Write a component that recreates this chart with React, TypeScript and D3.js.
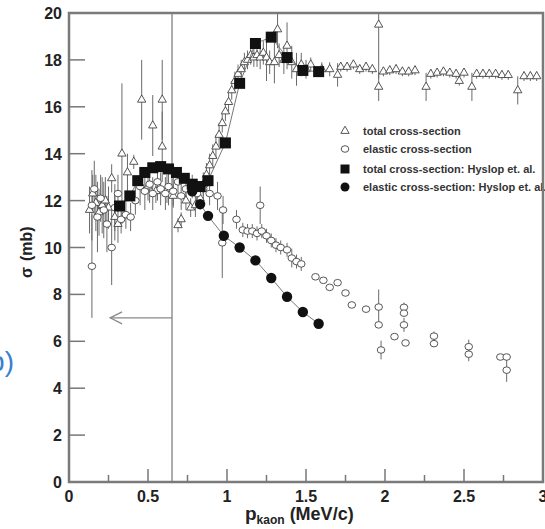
import React from "react";
import * as d3 from "d3";

// total cross-section: [p, sigma, err]
const totalData: [number, number, number][] = [
  [0.13, 11.6, 1.0], [0.15, 12.3, 0.8], [0.17, 11.9, 1.2], [0.19, 11.5, 1.0], [0.21, 11.8, 1.2],
  [0.23, 12.0, 1.0], [0.25, 11.7, 0.9], [0.27, 12.95, 0.6], [0.29, 11.3, 1.0], [0.31, 11.0, 0.8],
  [0.335, 14.0, 3.0], [0.37, 13.2, 0.8], [0.41, 13.65, 0.3], [0.46, 16.3, 1.7], [0.53, 15.2, 1.3],
  [0.59, 16.3, 1.7], [0.59, 14.3, 1.5], [0.5, 12.6, 0.6], [0.55, 12.4, 0.5], [0.62, 12.5, 0.6],
  [0.66, 12.2, 0.5], [0.71, 11.2, 0.3], [0.69, 10.95, 0.3], [0.77, 11.7, 0.4], [0.74, 12.0, 0.4],
  [0.8, 11.8, 0.5], [0.83, 12.1, 0.5],
  [0.85, 12.7, 0.5], [0.87, 13.1, 0.5], [0.89, 13.5, 0.5], [0.91, 13.9, 0.5], [0.93, 14.3, 0.5],
  [0.95, 14.8, 0.5], [0.97, 15.3, 0.4], [0.99, 15.8, 0.4], [1.01, 16.2, 0.4], [1.03, 16.7, 0.4],
  [1.05, 17.1, 0.4], [1.07, 17.4, 0.4], [1.09, 17.6, 0.4], [1.11, 17.9, 0.4], [1.13, 18.0, 0.4],
  [1.15, 18.2, 0.4], [1.17, 18.1, 0.4], [1.19, 18.2, 0.5], [1.21, 18.1, 0.5], [1.23, 18.3, 0.5],
  [1.25, 18.1, 1.0], [1.27, 17.9, 0.5], [1.3, 17.9, 0.9], [1.32, 19.3, 0.8], [1.33, 18.2, 0.5],
  [1.36, 18.0, 0.6], [1.38, 18.6, 1.0], [1.41, 17.9, 0.7], [1.44, 17.6, 0.7], [1.47, 17.8, 0.5],
  [1.5, 17.6, 0.4], [1.53, 17.8, 0.3], [1.6, 17.6, 0.3], [1.65, 17.6, 0.3], [1.7, 17.36, 0.5],
  [1.72, 17.7, 0.2], [1.76, 17.7, 0.2], [1.8, 17.8, 0.2], [1.84, 17.6, 0.2], [1.88, 17.7, 0.2],
  [1.92, 17.6, 0.2], [1.96, 19.5, 2.3], [1.96, 16.85, 0.6], [1.99, 17.5, 0.2], [2.03, 17.55, 0.2],
  [2.07, 17.6, 0.2], [2.11, 17.5, 0.2], [2.15, 17.5, 0.2], [2.19, 17.55, 0.2], [2.26, 16.85, 0.6],
  [2.29, 17.4, 0.2], [2.33, 17.45, 0.2], [2.37, 17.5, 0.2], [2.41, 17.45, 0.2], [2.45, 17.4, 0.2],
  [2.47, 17.1, 0.2], [2.5, 17.45, 0.2], [2.55, 16.85, 0.6], [2.58, 17.4, 0.2], [2.62, 17.4, 0.2],
  [2.66, 17.4, 0.2], [2.7, 17.4, 0.2], [2.74, 17.35, 0.2], [2.78, 17.35, 0.2], [2.84, 16.7, 0.6],
  [2.88, 17.3, 0.2], [2.92, 17.3, 0.2], [2.96, 17.3, 0.2],
];

// elastic cross-section: [p, sigma, err]
const elasticData: [number, number, number][] = [
  [0.145, 9.2, 2.2], [0.145, 11.8, 1.5], [0.16, 12.5, 1.2], [0.18, 11.3, 1.5], [0.2, 12.1, 1.0],
  [0.22, 11.6, 1.2], [0.24, 11.0, 1.2], [0.27, 10.0, 1.6], [0.29, 11.7, 1.0], [0.31, 12.3, 0.8],
  [0.33, 11.2, 0.6], [0.36, 11.4, 0.6], [0.39, 11.3, 0.6], [0.42, 12.0, 0.6], [0.45, 12.6, 0.8],
  [0.48, 12.4, 0.8], [0.51, 12.7, 0.8], [0.53, 12.3, 0.7], [0.56, 12.8, 0.8], [0.58, 12.5, 0.7],
  [0.61, 12.3, 0.7], [0.63, 12.6, 0.8], [0.66, 12.4, 0.6], [0.69, 12.8, 0.6], [0.71, 12.2, 0.6],
  [0.74, 12.5, 0.6], [0.78, 12.6, 0.5], [0.81, 12.3, 0.5], [0.85, 12.5, 0.5], [0.89, 12.3, 0.5],
  [0.94, 12.2, 0.6], [0.975, 11.6, 0.6], [0.97, 10.2, 1.5], [1.06, 11.2, 0.4], [1.1, 10.75, 0.3],
  [1.13, 10.7, 0.3], [1.16, 10.7, 0.3], [1.19, 10.6, 0.3], [1.21, 11.8, 0.8], [1.22, 10.7, 0.3],
  [1.25, 10.5, 0.3], [1.28, 10.3, 0.3], [1.31, 10.1, 0.3], [1.34, 10.0, 0.3], [1.38, 9.9, 0.3],
  [1.41, 9.55, 0.4], [1.44, 9.4, 0.3], [1.47, 9.3, 0.3], [1.56, 8.75, 0.1], [1.61, 8.6, 0.1],
  [1.65, 8.3, 0.1], [1.7, 8.5, 0.1], [1.75, 8.06, 0.1], [1.79, 7.55, 0.1], [1.88, 7.37, 0.1],
  [1.96, 7.46, 0.75], [1.96, 6.7, 0.1], [1.975, 5.63, 0.4], [2.06, 6.2, 0.1], [2.13, 5.93, 0.1],
  [2.12, 7.45, 0.2], [2.12, 7.2, 0.1], [2.12, 6.7, 0.3], [2.31, 6.22, 0.2], [2.31, 5.9, 0.1],
  [2.53, 5.77, 0.3], [2.53, 5.45, 0.3], [2.73, 5.33, 0.1], [2.77, 5.33, 0.1], [2.77, 4.77, 0.5],
];

// Hyslop et al. total: [p, sigma]
const hyslopTotal: [number, number][] = [
  [0.32, 11.77], [0.385, 12.2], [0.435, 12.85], [0.48, 13.2], [0.53, 13.4], [0.58, 13.45],
  [0.63, 13.35], [0.68, 13.2], [0.73, 12.95], [0.78, 12.7], [0.83, 12.6], [0.88, 12.85],
  [0.99, 14.46], [1.08, 17.0], [1.18, 18.7], [1.28, 18.97], [1.38, 18.1], [1.48, 17.55], [1.58, 17.5],
];

// Hyslop et al. elastic: [p, sigma]
const hyslopElastic: [number, number][] = [
  [0.78, 12.4], [0.83, 11.85], [0.88, 11.35], [0.98, 10.5], [1.08, 10.0], [1.18, 9.45],
  [1.28, 8.7], [1.38, 7.9], [1.48, 7.25], [1.58, 6.75],
];

const xTicks = [0, 0.5, 1, 1.5, 2, 2.5, 3];
const xMinorTicks = [0.25, 0.75, 1.25, 1.75, 2.25, 2.75];
const yTicks = [0, 2, 4, 6, 8, 10, 12, 14, 16, 18, 20];
const legendLabels = [
  "total cross-section",
  "elastic cross-section",
  "total cross-section: Hyslop et. al.",
  "elastic cross-section: Hyslop et. al.",
];
const thresholdP = 0.652;
const arrowEndP = 0.26;
const arrowSigma = 7.0;

export default function App() {
  const W = 545, H = 529;
  const L = 69, R = 543, T = 13, B = 482;
  const x = d3.scaleLinear().domain([0, 3]).range([L, R]);
  const y = d3.scaleLinear().domain([0, 20]).range([B, T]);
  const tri = d3.symbol(d3.symbolTriangle, 30)() as string;
  const font = "Liberation Sans, Arial, sans-serif";
  const mk = "#444";
  const bar = "#6a6a6a";
  const line = d3.line<[number, number]>().x((d) => x(d[0])).y((d) => y(d[1]));

  const errBars = (data: [number, number, number][], key: string) =>
    data.map((d, i) => (
      <line key={key + i} x1={x(d[0])} x2={x(d[0])} y1={y(d[1] - d[2])} y2={y(d[1] + d[2])}
        stroke={bar} strokeWidth={1} />
    ));

  return (
    <svg width={W} height={H} style={{ position: "absolute", left: 0, top: 0, background: "#fff" }}>
      <defs>
        <clipPath id="plot">
          <rect x={L} y={T} width={R - L} height={B - T} />
        </clipPath>
      </defs>

      <g clipPath="url(#plot)">
        {/* threshold line and arrow */}
        <line x1={x(thresholdP)} x2={x(thresholdP)} y1={T} y2={B} stroke="#777" strokeWidth={1.2} />
        <line x1={x(thresholdP)} x2={x(arrowEndP)} y1={y(arrowSigma)} y2={y(arrowSigma)} stroke="#888" strokeWidth={1.2} />
        <polyline
          points={`${x(arrowEndP) + 12},${y(arrowSigma) - 6} ${x(arrowEndP)},${y(arrowSigma)} ${x(arrowEndP) + 12},${y(arrowSigma) + 6}`}
          fill="none" stroke="#888" strokeWidth={1.2} />

        {errBars(totalData, "te")}
        {errBars(elasticData, "ee")}

        {totalData.map((d, i) => (
          <path key={"t" + i} d={tri} transform={`translate(${x(d[0])},${y(d[1])})`}
            fill="#fff" stroke={mk} strokeWidth={0.9} />
        ))}
        {elasticData.map((d, i) => (
          <ellipse key={"e" + i} cx={x(d[0])} cy={y(d[1])} rx={3.8} ry={3.3}
            fill="#fff" stroke={mk} strokeWidth={0.9} />
        ))}

        <path d={line(hyslopTotal) as string} fill="none" stroke="#777" strokeWidth={1} />
        <path d={line(hyslopElastic) as string} fill="none" stroke="#777" strokeWidth={1} />
        {hyslopTotal.map((d, i) => (
          <rect key={"ht" + i} x={x(d[0]) - 5.5} y={y(d[1]) - 5.5} width={11} height={11} fill="#111" />
        ))}
        {hyslopElastic.map((d, i) => (
          <circle key={"he" + i} cx={x(d[0])} cy={y(d[1])} r={5.2} fill="#111" />
        ))}
      </g>

      {/* legend */}
      {legendLabels.map((lab, i) => {
        const ly = [131, 149, 169, 187][i];
        const lx = 345;
        return (
          <g key={"lg" + i}>
            {i === 0 && <path d={tri} transform={`translate(${lx},${ly})`} fill="#fff" stroke={mk} strokeWidth={0.9} />}
            {i === 1 && <ellipse cx={lx} cy={ly} rx={3.8} ry={3.3} fill="#fff" stroke={mk} strokeWidth={0.9} />}
            {i === 2 && <rect x={lx - 4.5} y={ly - 4.5} width={9} height={9} fill="#111" />}
            {i === 3 && <circle cx={lx} cy={ly} r={4.5} fill="#111" />}
            <text x={363} y={ly + 4} fontFamily={font} fontWeight="bold" fontSize={11} fill="#333">
              {lab}
            </text>
          </g>
        );
      })}

      {/* frame */}
      <rect x={L} y={T} width={R - L} height={B - T} fill="none" stroke="#7a7a7a" strokeWidth={2.5} />

      {/* y ticks */}
      {yTicks.map((t) => (
        <g key={"yt" + t}>
          {t > 0 && t < 20 && <line x1={L} x2={L + 16} y1={y(t)} y2={y(t)} stroke="#777" strokeWidth={1.5} />}
          <text x={L - 7} y={y(t) + 6} textAnchor="end" fontFamily={font} fontWeight="bold" fontSize={16} fill="#222">
            {t}
          </text>
        </g>
      ))}

      {/* x ticks */}
      {xTicks.map((t) => (
        <g key={"xt" + t}>
          {t > 0 && t < 3 && <line x1={x(t)} x2={x(t)} y1={B} y2={B - 13} stroke="#777" strokeWidth={1.5} />}
          <text x={x(t)} y={B + 20} textAnchor="middle" fontFamily={font} fontWeight="bold" fontSize={16} fill="#222">
            {t}
          </text>
        </g>
      ))}
      {xMinorTicks.map((t) => (
        <line key={"xm" + t} x1={x(t)} x2={x(t)} y1={B} y2={B - 7} stroke="#777" strokeWidth={1.5} />
      ))}

      {/* axis titles */}
      <text transform="translate(32,278) rotate(-90)" fontFamily={font} fontWeight="bold" fontSize={16} fill="#222">
        <tspan>σ</tspan>
        <tspan dx={6}>(mb)</tspan>
      </text>
      <text x={245} y={520} fontFamily={font} fontWeight="bold" fontSize={19} fill="#222">
        p
        <tspan fontSize={12} dy={4}>kaon</tspan>
        <tspan fontSize={18} dy={-4} dx={5}>(MeV/c)</tspan>
      </text>

      {/* panel label, cut at the left edge */}
      <text x={14} y={371} textAnchor="end" fontFamily={font} fontSize={28} fill="#3a7fd0">
        (b)
      </text>
    </svg>
  );
}
